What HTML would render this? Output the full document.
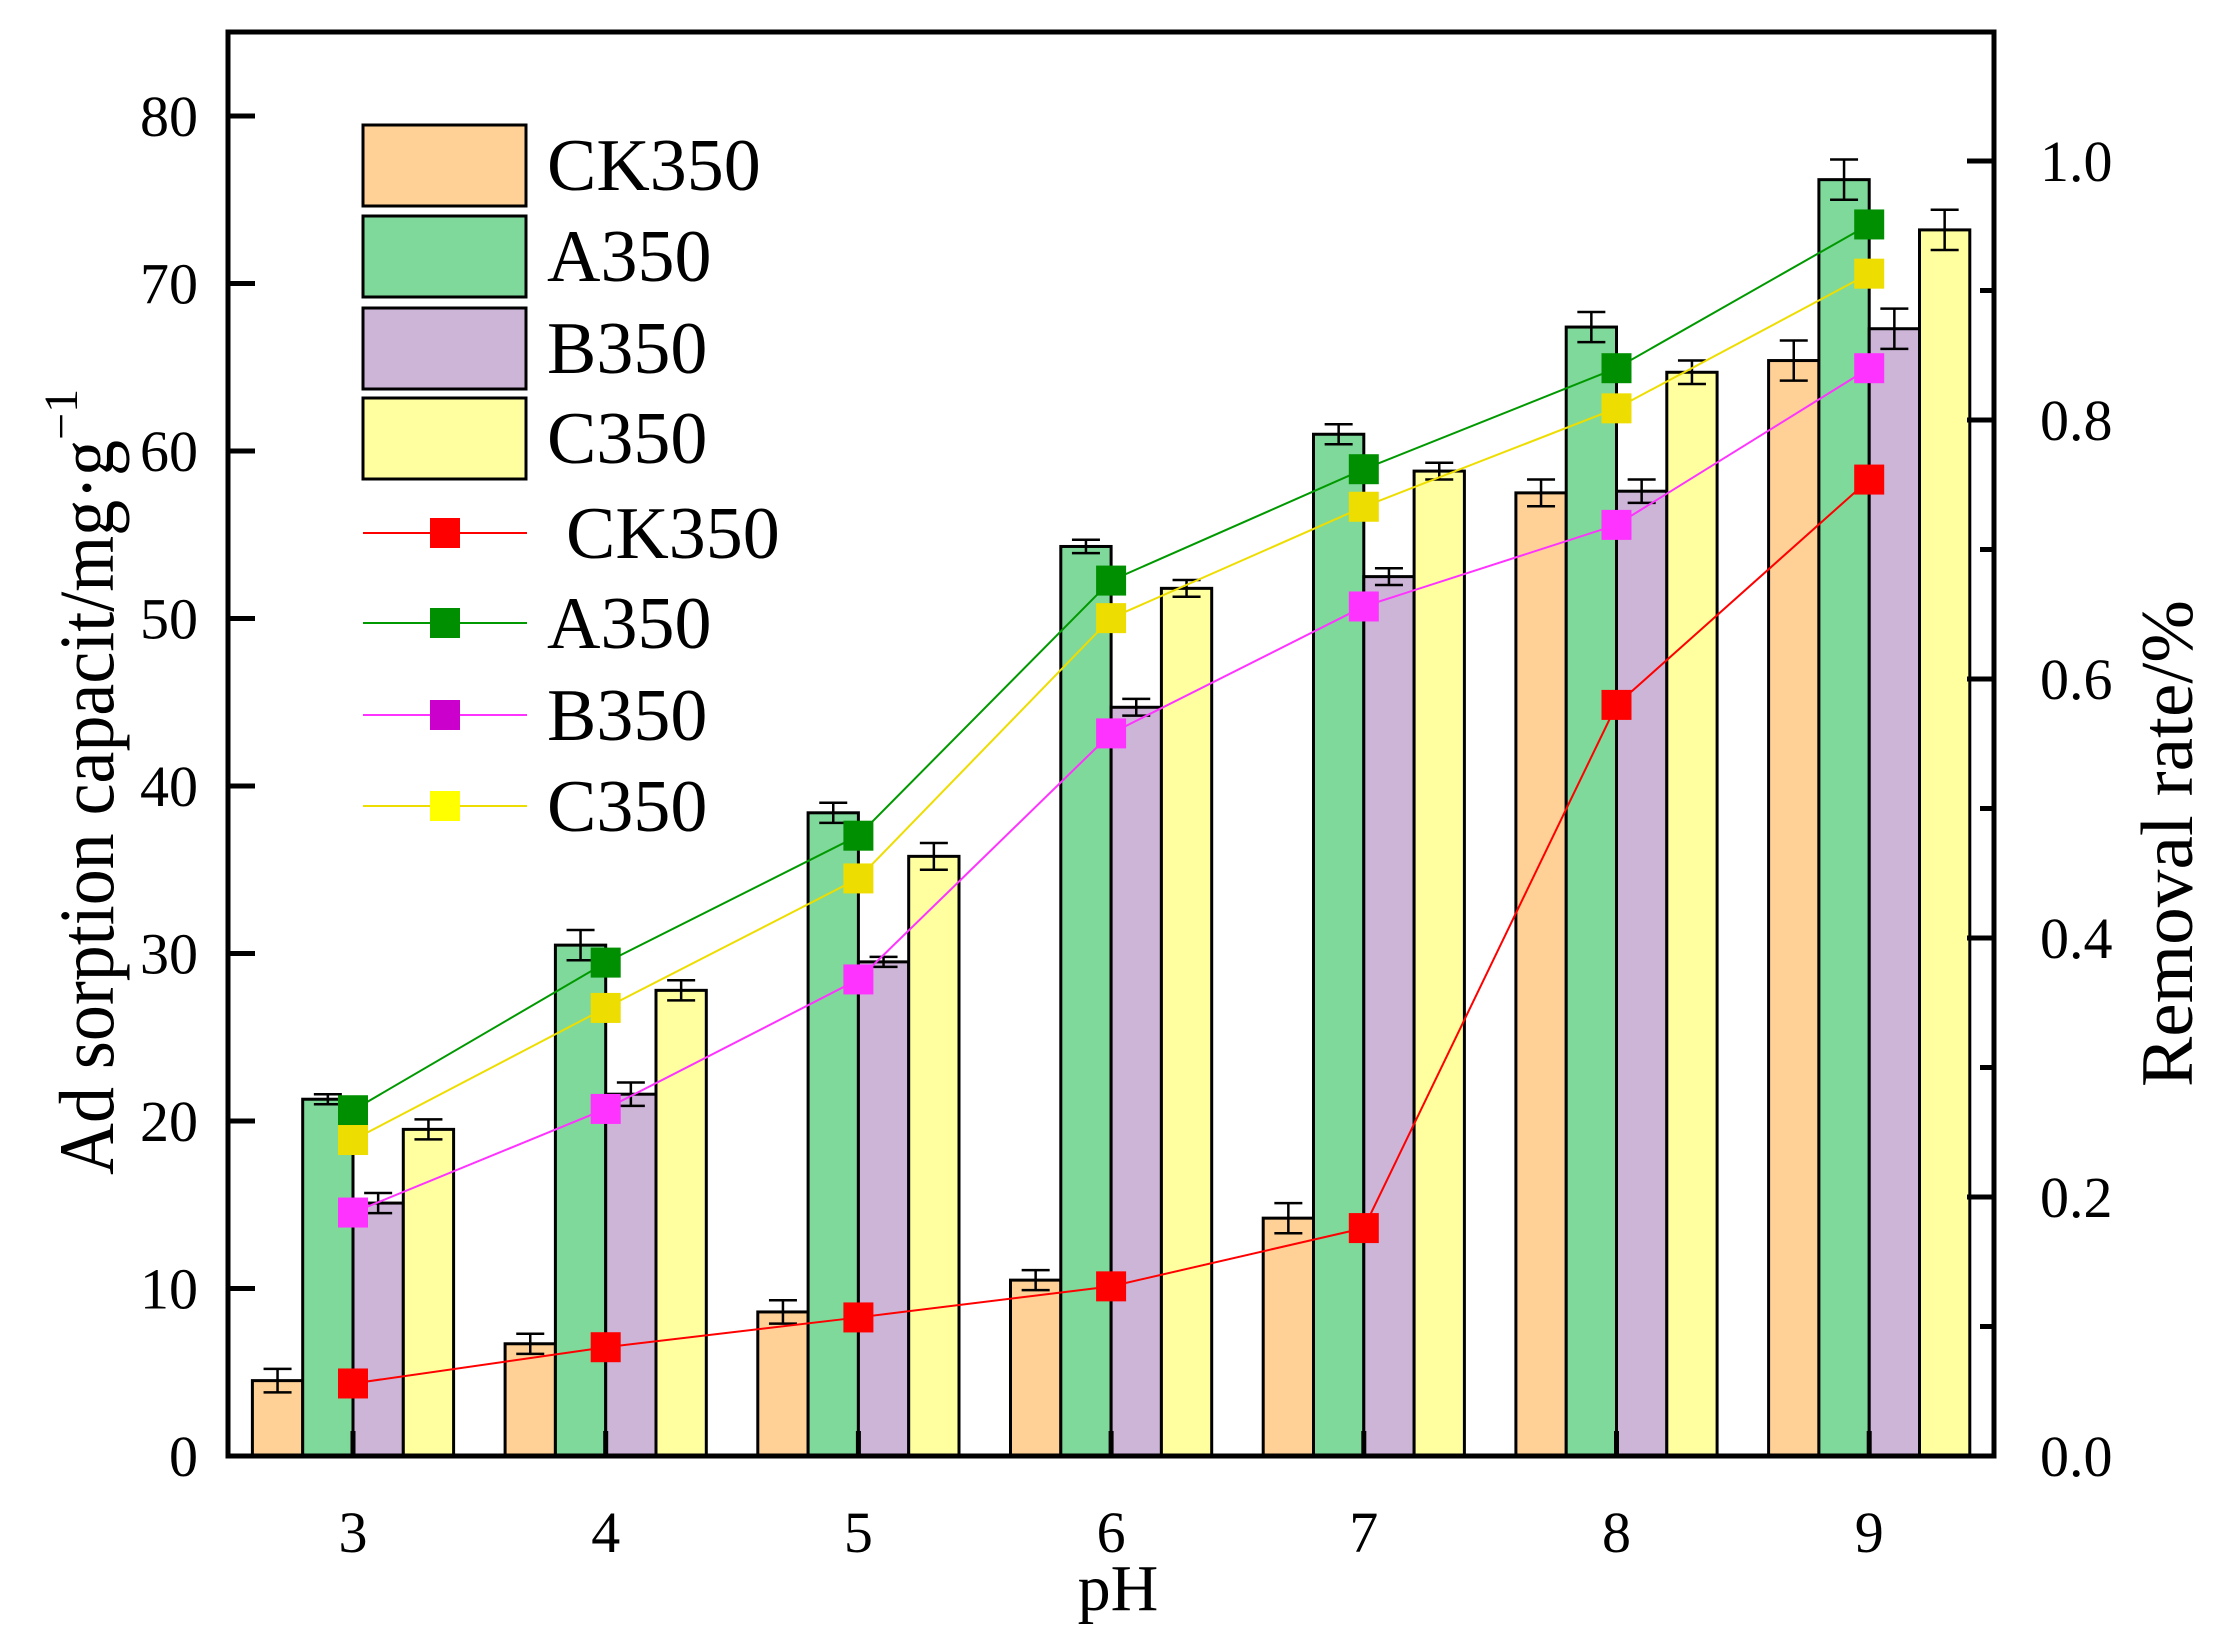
<!DOCTYPE html>
<html><head><meta charset="utf-8"><style>html,body{margin:0;padding:0;background:#fff}svg{display:block}svg text{font-family:"Liberation Serif","Times New Roman",serif}</style></head>
<body>
<svg id="s" xmlns="http://www.w3.org/2000/svg" width="2225" height="1633" viewBox="0 0 2225 1633" style="font-family:'Liberation Serif',serif"></svg>
<script>
const s=document.getElementById('s');let h='';
const L=228,R=1994,T=32,B=1456;
const yv=v=>B-v*16.75, yr=r=>B-r*1295;
const xc=i=>353+i*252.7;
const bars=[[4.5,21.3,15.1,19.5],[6.7,30.5,21.6,27.8],[8.6,38.4,29.5,35.8],[10.5,54.3,44.7,51.8],[14.2,61.0,52.5,58.8],[57.5,67.4,57.6,64.7],[65.4,76.2,67.3,73.2]];
const errs=[[0.7,0.3,0.6,0.6],[0.6,0.9,0.7,0.6],[0.7,0.6,0.3,0.8],[0.6,0.4,0.5,0.5],[0.9,0.6,0.5,0.5],[0.8,0.9,0.7,0.7],[1.2,1.2,1.2,1.2]];
const fills=['#FFD196','#7FD99A','#CDB5D8','#FFFFA0'];
const bw=50.3;
for(let i=0;i<7;i++){for(let j=0;j<4;j++){const x=xc(i)-2*bw+j*bw,v=bars[i][j],y=yv(v);
h+=`<rect x="${x}" y="${y}" width="${bw}" height="${B-y}" fill="${fills[j]}" stroke="#000" stroke-width="3"/>`;
const cx=x+bw/2,e=errs[i][j]*16.75;
h+=`<path d="M${cx} ${y-e}V${y+e}M${cx-14} ${y-e}H${cx+14}M${cx-14} ${y+e}H${cx+14}" stroke="#000" stroke-width="2.5" fill="none"/>`;}}
const lines=[
 {c:'#FF0000',m:'#FF0000',d:[0.056,0.084,0.107,0.131,0.176,0.580,0.754]},
 {c:'#009900',m:'#008F00',d:[0.267,0.381,0.479,0.676,0.762,0.840,0.951]},
 {c:'#FF33FF',m:'#FF33FF',d:[0.188,0.268,0.368,0.558,0.656,0.719,0.840]},
 {c:'#EEDD00',m:'#EEDD00',d:[0.244,0.346,0.446,0.647,0.733,0.809,0.913]}];
for(const l of lines){h+=`<polyline points="${l.d.map((r,i)=>xc(i)+','+yr(r)).join(' ')}" fill="none" stroke="${l.c}" stroke-width="2"/>`;}
for(const l of lines){l.d.forEach((r,i)=>{h+=`<rect x="${xc(i)-15}" y="${yr(r)-15}" width="30" height="30" fill="${l.m}"/>`;});}
h+=`<rect x="${L}" y="${T}" width="${R-L}" height="${B-T}" fill="none" stroke="#000" stroke-width="5"/>`;
for(let v=0;v<=80;v+=10){const y=yv(v);h+=`<line x1="${L}" y1="${y}" x2="${L+27}" y2="${y}" stroke="#000" stroke-width="5"/><text x="198" y="${y+20}" font-size="58" text-anchor="end">${v}</text>`;}
for(let k=0;k<=10;k++){const r=k/10,y=yr(r),len=k%2?14:27;h+=`<line x1="${R-len}" y1="${y}" x2="${R}" y2="${y}" stroke="#000" stroke-width="5"/>`;if(k%2==0)h+=`<text x="2040" y="${y+20}" font-size="58">${r.toFixed(1)}</text>`;}
for(let i=0;i<7;i++){h+=`<line x1="${xc(i)}" y1="${B}" x2="${xc(i)}" y2="${B-25}" stroke="#000" stroke-width="5"/><text x="${xc(i)}" y="1552" font-size="58" text-anchor="middle">${i+3}</text>`;}
h+=`<text x="1118" y="1610" font-size="66" text-anchor="middle">pH</text>`;
h+=`<text transform="translate(113,1175) rotate(-90)" font-size="78"><tspan textLength="735" lengthAdjust="spacingAndGlyphs">Ad sorption capacit/mg·g</tspan><tspan font-size="48" dy="-36">−1</tspan></text>`;
h+=`<text transform="translate(2192,1087) rotate(-90)" font-size="74" textLength="487" lengthAdjust="spacingAndGlyphs">Removal rate/%</text>`;
const ly=[125,216,308,398];const names=['CK350','A350','B350','C350'];
ly.forEach((y,j)=>{h+=`<rect x="363" y="${y}" width="163" height="81" fill="${fills[j]}" stroke="#000" stroke-width="3"/><text x="547" y="${y+65}" font-size="74">${names[j]}</text>`;});
const lly=[533,623,715,806];
lines.forEach((l,j)=>{const y=lly[j];h+=`<line x1="363" y1="${y}" x2="527" y2="${y}" stroke="${l.c}" stroke-width="2"/><rect x="430" y="${y-15}" width="30" height="30" fill="${j==2?'#CC00CC':(j==3?'#FFFF00':l.m)}"/><text x="${j==0?566:547}" y="${y+25}" font-size="74">${names[j]}</text>`;});
s.innerHTML=h;
</script>
</body></html>
